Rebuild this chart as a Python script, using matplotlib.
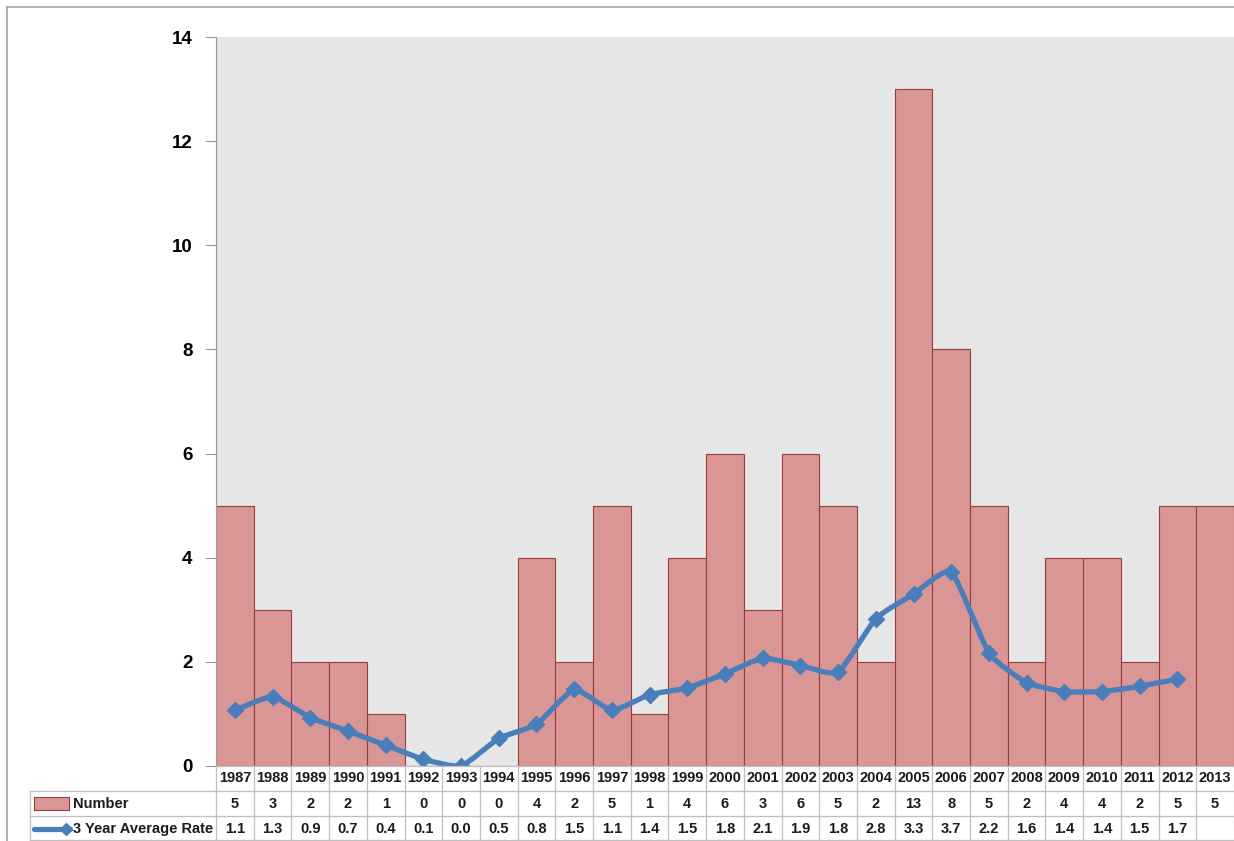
import numpy as np
import matplotlib.pyplot as plt
from matplotlib.path import Path
from matplotlib.patches import PathPatch, Rectangle
from matplotlib.lines import Line2D
import matplotlib.transforms as mtransforms

plt.rcParams['font.family'] = ['Liberation Sans', 'DejaVu Sans']

# --- data ---
years = [str(y) for y in range(1987, 2014)]
number = [5, 3, 2, 2, 1, 0, 0, 0, 4, 2, 5, 1, 4, 6, 3, 6, 5, 2, 13, 8, 5, 2, 4, 4, 2, 5, 5]
rate = [1.07, 1.33, 0.93, 0.67, 0.40, 0.13, 0.00, 0.53, 0.80, 1.47, 1.07, 1.37, 1.50,
        1.77, 2.07, 1.93, 1.80, 2.83, 3.30, 3.73, 2.17, 1.60, 1.43, 1.43, 1.53, 1.67]
series_names = ['Number', '3 Year Average Rate']

bar_fill = '#D99694'
bar_edge = '#963C3A'
line_col = '#4A7EBB'

W, H = 1234, 841
fig = plt.figure(figsize=(W / 100, H / 100), dpi=100)
ax = fig.add_axes([216 / W, (H - 766) / H, (W - 216) / W, (766 - 37) / H])
ax.set_facecolor('#E6E6E6')

x = np.arange(len(years))
ax.bar(x, number, width=1.0, color=bar_fill, edgecolor=bar_edge, linewidth=0.8, zorder=2)

# lightly smoothed line through the points (bezier segments)
xr = np.arange(len(rate), dtype=float)
pts = np.column_stack([xr, rate])
verts = [tuple(pts[0])]
codes = [Path.MOVETO]
for i in range(len(pts) - 1):
    p0 = pts[i - 1] if i > 0 else pts[i]
    p1 = pts[i]
    p2 = pts[i + 1]
    p3 = pts[i + 2] if i + 2 < len(pts) else pts[i + 1]
    c1 = p1 + (p2 - p0) / 12.0
    c2 = p2 - (p3 - p1) / 12.0
    verts += [tuple(c1), tuple(c2), tuple(p2)]
    codes += [Path.CURVE4] * 3
ax.add_patch(PathPatch(Path(verts, codes), facecolor='none', edgecolor=line_col,
                       linewidth=3.8, capstyle='round', joinstyle='round', zorder=3))
ax.plot(xr, rate, linestyle='none', marker='D', markersize=8.5, color=line_col, zorder=4)

ax.set_xlim(-0.5, len(years) - 0.5)
ax.set_ylim(0, 14)
ax.set_yticks(range(0, 15, 2))
ax.set_xticks([])
for s in ['top', 'right', 'bottom']:
    ax.spines[s].set_visible(False)
ax.spines['left'].set_color('#9A9A9A')
ax.tick_params(axis='y', length=8, color='#9A9A9A', pad=9, labelsize=13.5)
for lab in ax.get_yticklabels():
    lab.set_fontweight('bold')

# --- data table below the axes ---
grid_col = '#BFBFBF'
txt_col = '#1a1a1a'
fs = 10.5


def ypix(p):
    return 1 - p / H


trans = mtransforms.blended_transform_factory(ax.transData, fig.transFigure)
rows_y = [778, 804, 829]
for yy in [791, 816, 840]:
    fig.add_artist(Line2D([30 / W, 1], [ypix(yy), ypix(yy)], color=grid_col, lw=0.9))
fig.add_artist(Line2D([216 / W, 1], [ypix(766), ypix(766)], color=grid_col, lw=0.9))
fig.add_artist(Line2D([30 / W, 30 / W], [ypix(791), ypix(841)], color=grid_col, lw=0.9))
for k in range(len(years) + 1):
    xb = k - 0.5
    ax.add_line(Line2D([xb, xb], [ypix(766), ypix(841)], transform=trans, color=grid_col,
                       lw=0.9, clip_on=False))

for i, yl in enumerate(years):
    ax.text(i, ypix(rows_y[0]), yl, transform=trans, ha='center', va='center',
            fontsize=fs, fontweight='bold', color=txt_col, clip_on=False)
    ax.text(i, ypix(rows_y[1]), str(number[i]), transform=trans, ha='center', va='center',
            fontsize=fs, fontweight='bold', color=txt_col, clip_on=False)
    if i < len(rate):
        ax.text(i, ypix(rows_y[2]), f'{rate[i]:.1f}', transform=trans, ha='center',
                va='center', fontsize=fs, fontweight='bold', color=txt_col, clip_on=False)

# legend keys in the table
fig.add_artist(Rectangle((34 / W, ypix(810)), 35 / W, 13 / H, transform=fig.transFigure,
                         facecolor=bar_fill, edgecolor=bar_edge, lw=0.8))
fig.text(73 / W, ypix(rows_y[1]), series_names[0], ha='left', va='center',
         fontsize=fs, fontweight='bold', color=txt_col)
fig.add_artist(Line2D([34 / W, 70 / W], [ypix(829), ypix(829)], color=line_col, lw=3.8,
                      solid_capstyle='round'))
fig.add_artist(Line2D([66 / W], [ypix(829)], color=line_col, marker='D', markersize=6,
                      linestyle='none'))
fig.text(73 / W, ypix(rows_y[2]), series_names[1], ha='left', va='center',
         fontsize=fs, fontweight='bold', color=txt_col)

# outer chart border
fig.add_artist(Line2D([7 / W, 1], [ypix(7), ypix(7)], color='#A6A6A6', lw=1.2))
fig.add_artist(Line2D([7 / W, 7 / W], [ypix(7), 0], color='#A6A6A6', lw=1.2))

fig.savefig('out.png', dpi=100)
